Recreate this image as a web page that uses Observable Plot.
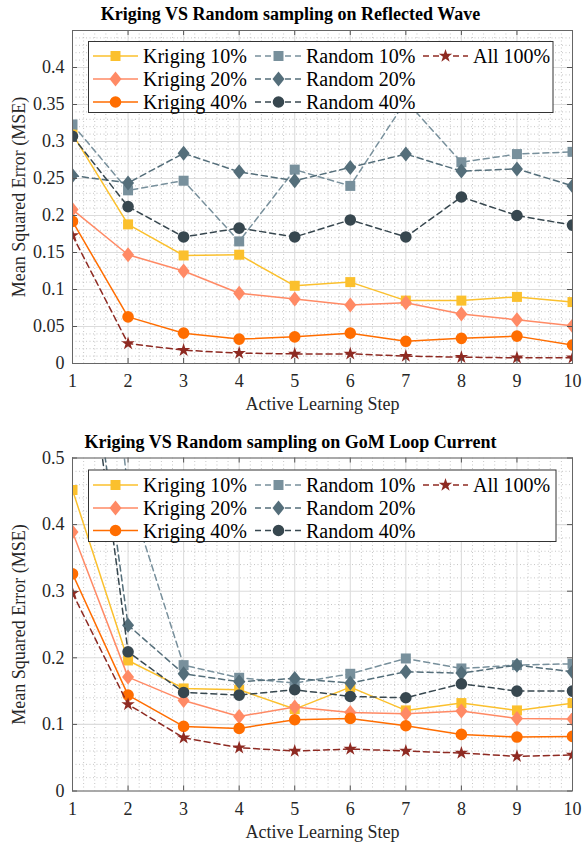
<!DOCTYPE html>
<html>
<head>
<meta charset="utf-8">
<script src="https://cdn.jsdelivr.net/npm/d3@7"></script>
<script src="https://cdn.jsdelivr.net/npm/@observablehq/plot@0.6"></script>
<style>
  body { margin: 0; background: #fff; }
  #wrap { position: relative; width: 582px; height: 846px; font-family: "Liberation Serif", "Times New Roman", serif; }
  .panel { position: absolute; left: 0; }
  #legend { position: absolute; left: 0; top: 0; }
</style>
</head>
<body>
<div id="wrap"></div>
<script>
// ---------- data ----------
const steps = [1, 2, 3, 4, 5, 6, 7, 8, 9, 10];
const seriesNames = ["Kriging 10%", "Kriging 20%", "Kriging 40%", "Random 10%", "Random 20%", "Random 40%", "All 100%"];

// Panel 1: Reflected Wave
const waveTitle = "Kriging VS Random sampling on Reflected Wave";
const waveKriging10 = [0.310, 0.188, 0.146, 0.147, 0.105, 0.110, 0.085, 0.085, 0.090, 0.083];
const waveKriging20 = [0.208, 0.147, 0.125, 0.095, 0.087, 0.079, 0.082, 0.067, 0.059, 0.051];
const waveKriging40 = [0.192, 0.063, 0.041, 0.033, 0.036, 0.041, 0.030, 0.034, 0.037, 0.025];
const waveRandom10  = [0.323, 0.234, 0.247, 0.165, 0.262, 0.240, 0.355, 0.272, 0.283, 0.286];
const waveRandom20  = [0.254, 0.244, 0.284, 0.259, 0.247, 0.265, 0.283, 0.260, 0.263, 0.240];
const waveRandom40  = [0.307, 0.212, 0.171, 0.183, 0.171, 0.194, 0.171, 0.225, 0.200, 0.187];
const waveAll100    = [0.173, 0.027, 0.018, 0.014, 0.013, 0.013, 0.010, 0.0085, 0.0077, 0.0077];
const waveYTicks = [0, 0.05, 0.1, 0.15, 0.2, 0.25, 0.3, 0.35, 0.4];
const waveYMax = 0.45;

// Panel 2: GoM Loop Current
const loopTitle = "Kriging VS Random sampling on GoM Loop Current";
const loopKriging10 = [0.452, 0.196, 0.154, 0.152, 0.123, 0.156, 0.121, 0.132, 0.121, 0.132];
const loopKriging20 = [0.389, 0.171, 0.136, 0.112, 0.126, 0.118, 0.116, 0.120, 0.109, 0.108];
const loopKriging40 = [0.326, 0.144, 0.097, 0.094, 0.107, 0.109, 0.098, 0.085, 0.081, 0.082];
const loopRandom10  = [1.200, 0.450, 0.189, 0.170, 0.162, 0.176, 0.199, 0.184, 0.189, 0.191];
const loopRandom20  = [0.860, 0.249, 0.176, 0.164, 0.169, 0.162, 0.179, 0.177, 0.189, 0.179];
const loopRandom40  = [0.840, 0.209, 0.148, 0.144, 0.152, 0.142, 0.140, 0.161, 0.150, 0.150];
const loopAll100    = [0.297, 0.130, 0.080, 0.065, 0.060, 0.063, 0.060, 0.057, 0.052, 0.054];
const loopYTicks = [0, 0.1, 0.2, 0.3, 0.4, 0.5];
const loopYMax = 0.5;

const xLabel = "Active Learning Step";
const yLabel = "Mean Squared Error (MSE)";

// ---------- styles ----------
const seriesColors = ["#FBC02D", "#FF8A65", "#FF6D00", "#78909C", "#546E7A", "#37474F", "#8E2A22"];
const seriesDash = [null, null, null, "6,4", "6,4", "6,4", "6,4"];
const seriesSymbolKey = ["square", "diamond", "circle", "square", "diamond", "circle", "star"];
const symbols = {
  square: { draw(c) { c.rect(-5, -5, 10, 10); } },
  diamond: { draw(c) { c.moveTo(0, -7.5); c.lineTo(6, 0); c.lineTo(0, 7.5); c.lineTo(-6, 0); c.closePath(); } },
  circle: { draw(c) { c.moveTo(5.8, 0); c.arc(0, 0, 5.8, 0, 2 * Math.PI); } },
  star: { draw(c) { d3.symbolStar.draw(c, 56); } }
};

const FONT = "'Liberation Serif', 'Times New Roman', serif";
const W = 582, ML = 72, MR = 10;
const FRAME_H = 333, FRAME_W = W - ML - MR;

function minorTicks(max, step) {
  const out = [];
  for (let i = 0; i * step <= max + 1e-9; i++) out.push(+(i * step).toFixed(4));
  return out;
}

function makePanel({ title, seriesValues, yTicks, yMax, yMinorStep, height, marginTop, marginBottom }) {
  const xMinor = minorTicks(9, 0.2).map(d => d + 1).filter(d => Math.abs(d - Math.round(d)) > 1e-6);
  const yMinor = minorTicks(yMax, yMinorStep).filter(d => !yTicks.some(t => Math.abs(t - d) < 1e-6));
  const marks = [
    Plot.gridX(xMinor, { stroke: "#b8b8b8", strokeOpacity: 1, strokeWidth: 0.8, strokeDasharray: "1,2.5" }),
    Plot.gridY(yMinor, { stroke: "#b8b8b8", strokeOpacity: 1, strokeWidth: 0.8, strokeDasharray: "1,2.5" }),
    Plot.gridX(steps, { stroke: "#dcdcdc", strokeOpacity: 1, strokeWidth: 1.1 }),
    Plot.gridY(yTicks, { stroke: "#dcdcdc", strokeOpacity: 1, strokeWidth: 1.1 })
  ];
  seriesValues.forEach((vals, i) => {
    const rows = steps.map((s, j) => ({ step: s, value: vals[j], series: seriesNames[i] }));
    marks.push(Plot.line(rows, {
      x: "step", y: "value", stroke: seriesColors[i], strokeWidth: 1.5,
      strokeDasharray: seriesDash[i] || undefined, clip: true
    }));
    marks.push(Plot.dot(rows, {
      x: "step", y: "value", symbol: symbols[seriesSymbolKey[i]], r: 5,
      fill: seriesColors[i], stroke: "none", clip: true
    }));
  });
  marks.push(
    // inward ticks on all four sides
    Plot.ruleX(steps, { insetTop: FRAME_H - 5, stroke: "#555" }),
    Plot.ruleX(steps, { insetBottom: FRAME_H - 5, stroke: "#555" }),
    Plot.ruleY(yTicks, { insetRight: FRAME_W - 5, stroke: "#555" }),
    Plot.ruleY(yTicks, { insetLeft: FRAME_W - 5, stroke: "#555" }),
    Plot.frame({ stroke: "#666", strokeWidth: 1 }),
    Plot.axisX(steps, { tickSize: 0, tickPadding: 11, tickFormat: d => String(d), fontSize: 18, label: null, fill: "#262626" }),
    Plot.axisY(yTicks, { tickSize: 0, tickPadding: 8, tickFormat: d => String(+d.toFixed(2)), fontSize: 18, label: null, fill: "#262626" }),
    Plot.text([title], { text: d => d, frameAnchor: "top", dx: -32, dy: -16, fontWeight: "bold", fontSize: 18, lineAnchor: "middle", fill: "#000" }),
    Plot.text([xLabel], { text: d => d, frameAnchor: "bottom", dy: 41, fontSize: 18, lineAnchor: "middle", fill: "#262626" }),
    Plot.text([yLabel], { text: d => d, frameAnchor: "left", textAnchor: "middle", dx: -53, rotate: -90, fontSize: 18, lineAnchor: "middle", fill: "#262626" })
  );
  return Plot.plot({
    width: W, height, marginLeft: ML, marginRight: MR, marginTop, marginBottom,
    style: { fontFamily: FONT, fontSize: "18px", background: "transparent", overflow: "visible" },
    x: { domain: [1, 10], label: null },
    y: { domain: [0, yMax], label: null },
    marks
  });
}

const wrap = document.getElementById("wrap");

const top1 = makePanel({
  title: waveTitle,
  seriesValues: [waveKriging10, waveKriging20, waveKriging40, waveRandom10, waveRandom20, waveRandom40, waveAll100],
  yTicks: waveYTicks, yMax: waveYMax, yMinorStep: 0.01,
  height: 423, marginTop: 30, marginBottom: 60
});
top1.classList.add("panel"); top1.style.top = "0px";
wrap.appendChild(top1);

const bot1 = makePanel({
  title: loopTitle,
  seriesValues: [loopKriging10, loopKriging20, loopKriging40, loopRandom10, loopRandom20, loopRandom40, loopAll100],
  yTicks: loopYTicks, yMax: loopYMax, yMinorStep: 0.02,
  height: 423, marginTop: 34.5, marginBottom: 55.5
});
bot1.classList.add("panel"); bot1.style.top = "423px";
wrap.appendChild(bot1);

// ---------- legends (overlay) ----------
const legendSvg = d3.select(wrap).append("svg")
  .attr("id", "legend").attr("width", W).attr("height", 846);

const legendCols = [[0, 1, 2], [3, 4, 5], [6]];
const colX = [{ l: 93, r: 138, t: 143 }, { l: 255, r: 302, t: 306 }, { l: 423, r: 468, t: 473 }];

function drawLegend(box, rowY) {
  const g = legendSvg.append("g");
  g.append("rect").attr("x", box.x0).attr("y", box.y0)
    .attr("width", box.x1 - box.x0).attr("height", box.y1 - box.y0)
    .attr("fill", "#fff").attr("stroke", "#333").attr("stroke-width", 1);
  legendCols.forEach((col, ci) => {
    col.forEach((si, ri) => {
      const y = rowY[ri], c = colX[ci];
      g.append("line").attr("x1", c.l).attr("x2", c.r).attr("y1", y).attr("y2", y)
        .attr("stroke", seriesColors[si]).attr("stroke-width", 1.5)
        .attr("stroke-dasharray", seriesDash[si] || null);
      g.append("path").attr("d", d3.symbol(symbols[seriesSymbolKey[si]], 80)())
        .attr("transform", `translate(${(c.l + c.r) / 2},${y})`)
        .attr("fill", seriesColors[si]);
      g.append("text").attr("x", c.t).attr("y", y).attr("dy", "0.35em")
        .style("font-family", FONT).attr("font-size", 20).attr("fill", "#000")
        .text(seriesNames[si]);
    });
  });
}
drawLegend({ x0: 88.5, y0: 41.5, x1: 553, y1: 112.5 }, [56, 79, 102]);
drawLegend({ x0: 88.5, y0: 470, x1: 556, y1: 541.5 }, [485, 508, 530.5]);
</script>
</body>
</html>
